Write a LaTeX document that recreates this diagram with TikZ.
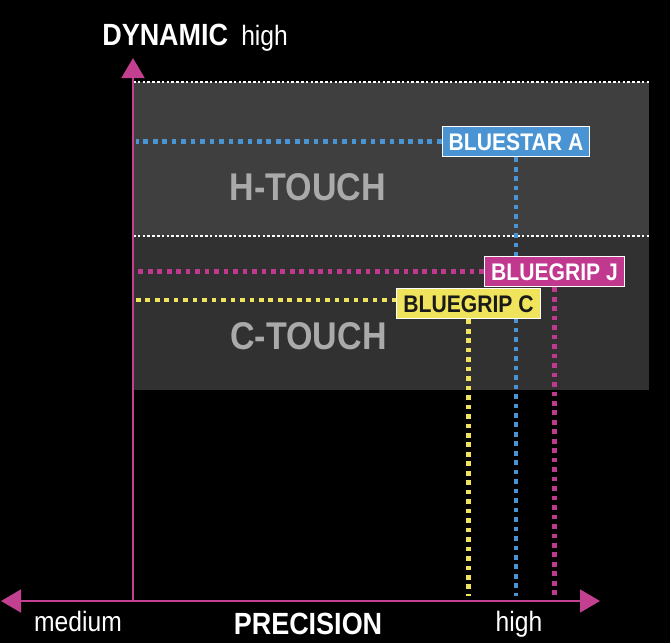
\documentclass[tikz,border=0pt]{standalone}
\usepackage{fontspec}
\setmainfont{Liberation Sans}[FakeStretch=0.88]
\usetikzlibrary{arrows.meta,backgrounds}
\definecolor{axismag}{HTML}{C2408F}
\definecolor{htouchbg}{HTML}{3F3F3F}
\definecolor{ctouchbg}{HTML}{323132}
\definecolor{zonetext}{HTML}{AAAAAA}
\definecolor{bluestar}{HTML}{4A94D3}
\definecolor{gripj}{HTML}{C1398E}
\definecolor{gripc}{HTML}{F0E45C}
\definecolor{gripctext}{HTML}{1A1A1A}
\def\fs#1{\fontsize{#1}{#1}\selectfont}

\tikzset{
	axtip/.tip={Triangle[width=17pt,length=15pt]},
	axis/.style={line width=2.2pt, color=axismag},
	zoneline/.style={white, line width=0.8pt, dash pattern=on 2pt off 1.6pt},
	dots/.style={line width=3.4pt, dash pattern=on 3.5pt off 3.6pt},
	lbl/.style={draw=white, line width=0.8pt, font=\fs{18}\bfseries, inner xsep=5pt,
		inner ysep=5pt, text height=13pt, text depth=0pt},
	zone/.style={font=\fs{29}\bfseries, text=zonetext, anchor=base, inner sep=0pt},
	axtext/.style={font=\fs{21}, text=white, anchor=base, inner sep=0pt}
}

\begin{document}
\begin{tikzpicture}[x=0.75pt,y=-0.75pt]
		%%%%% START %%%%%
		
		\useasboundingbox (0,0) rectangle (670,643);
		
		\coordinate (wall) at (136,0);
		\coordinate (floor) at (0,596);
		
		% product labels
		\node[lbl, fill=bluestar, text=white] (bluestar) at (516,141.5) {BLUESTAR A};
		\node[lbl, fill=gripj, text=white] (gripj) at (554.5,271.5) {BLUEGRIP J};
		\node[lbl, fill=gripc, text=gripctext] (gripc) at (468.5,303.5) {BLUEGRIP C};
		
		\begin{scope}[on background layer]
			\fill[black] (0,0) rectangle (670,643);
			\fill[htouchbg] (133,82) rectangle (649,236);
			\fill[ctouchbg] (133,236) rectangle (649,390);
			\draw[zoneline] (133,82) -- (649,82);
			\draw[zoneline] (133,236) -- (649,236);
			
			\draw[dots, bluestar] (bluestar.west) -- (bluestar.west -| wall);
			\draw[dots, bluestar] (bluestar.south) -- (bluestar.south |- floor);
			\draw[dots, gripj] (gripj.west) -- (gripj.west -| wall);
			\draw[dots, gripj] (gripj.south) -- (gripj.south |- floor);
			\draw[dots, gripc] ([yshift=2.5]gripc.west) -- ([yshift=2.5]gripc.west -| wall);
			\draw[dots, gripc] (gripc.south) -- (gripc.south |- floor);
		\end{scope}
		
		\node[zone] (htouch) at (308,200) {H-TOUCH};
		\node[zone] (ctouch) at (308.5,349) {C-TOUCH};
		
		% axes
		\coordinate (origin) at (133,601);
		\coordinate (ytop) at (133,58);
		\coordinate (xleft) at (1,601);
		\coordinate (xright) at (600,601);
		\draw[axis, -axtip] (origin) -- (ytop);
		\draw[axis, axtip-axtip] (xleft) -- (xright);
		
		\node[font=\fs{23}\bfseries, text=white, anchor=base west, inner sep=0pt] (dynamic) at (102,45) {DYNAMIC};
		\node[axtext, anchor=base west] (dynhigh) at (241,45) {high};
		\node[axtext] (medium) at (78,631) {medium};
		\node[axtext, font=\fs{23}\bfseries] (precision) at (308,634) {PRECISION};
		\node[axtext] (prechigh) at (519,631) {high};
		
		%%%%% END %%%%%
	\end{tikzpicture}
\end{document}
